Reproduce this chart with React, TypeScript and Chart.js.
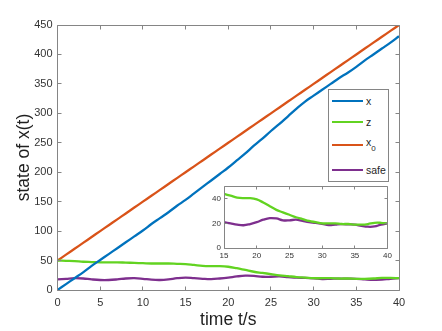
import React, { useEffect, useRef } from 'react';
import { Chart, registerables } from 'chart.js';

Chart.register(...registerables);

const TIME = [0, 1, 2, 3, 4, 5, 6, 7, 8, 9, 10, 11, 12, 13, 14, 15, 16, 17, 18, 19, 20, 21, 22, 23, 24, 25, 26, 27, 28, 29, 30, 31, 32, 33, 34, 35, 36, 37, 38, 39, 40];
const X_VALUES = [0, 10, 20, 30, 41, 51, 61, 71, 81, 91, 101, 112, 122, 132, 143, 153, 164, 175, 186, 197, 208, 220, 232, 245, 257, 270, 282, 295, 308, 320, 330, 340, 350, 360, 369, 379, 390, 400, 410, 420, 431];
const Z_VALUES = [50, 49.5, 49, 48, 47.5, 47, 47, 47, 46.5, 46, 45.5, 45, 45, 45, 44.5, 44, 42.5, 41, 40.5, 40.5, 39.5, 37, 34, 31, 29, 27, 25, 23.5, 22, 21, 20, 20, 20, 19.5, 19.5, 19, 19, 19.5, 20.5, 20.5, 20];
const X0_VALUES = [50, 60, 70, 80, 90, 100, 110, 120, 130, 140, 150, 160, 170, 180, 190, 200, 210, 220, 230, 240, 250, 260, 270, 280, 290, 300, 310, 320, 330, 340, 350, 360, 370, 380, 390, 400, 410, 420, 430, 440, 450];
const SAFE_VALUES = [18, 19, 20, 19.5, 18, 17, 17, 18, 19.5, 20, 19, 17.5, 17, 18, 20, 21, 20, 19, 18.5, 19.5, 21, 23, 24.3, 24, 22.5, 22.5, 23, 22, 21, 20.5, 19.7, 18.6, 19, 19.4, 19.2, 19, 18, 17.3, 17.5, 19, 20];

const SERIES_LABELS = ['x', 'z', 'x0', 'safe'];
const SERIES_COLORS = ['#0072BD', '#62D321', '#D95319', '#7E2F8E'];

const MAIN_X_TICKS = [0, 5, 10, 15, 20, 25, 30, 35, 40];
const MAIN_Y_TICKS = [0, 50, 100, 150, 200, 250, 300, 350, 400, 450];
const INSET_X_TICKS = [15, 20, 25, 30, 35, 40];
const INSET_Y_TICKS = [0, 20, 40];
const INSET_START = 15;

const FONT = '"Liberation Sans", Arial, Helvetica, sans-serif';
const AXIS_COLOR = '#858585';
const TEXT_COLOR = '#333333';

const boxPlugin = {
  id: 'boxTicks',
  beforeDraw(chart: any, _args: any, opts: any) {
    if (!opts.fill) return;
    const { ctx, chartArea: a } = chart;
    ctx.save();
    ctx.fillStyle = opts.fill;
    ctx.fillRect(a.left, a.top, a.right - a.left, a.bottom - a.top);
    ctx.restore();
  },
  afterDatasetsDraw(chart: any, _args: any, opts: any) {
    const { ctx, chartArea: a, scales } = chart;
    const L = opts.len || 4;
    const fx = (v: number) => Math.floor(v) + 0.5;
    ctx.save();
    ctx.strokeStyle = opts.color || AXIS_COLOR;
    ctx.lineWidth = 1;
    ctx.beginPath();
    const l = fx(a.left), r = fx(a.right), t = fx(a.top), b = fx(a.bottom);
    ctx.rect(l, t, r - l, b - t);
    scales.x.ticks.forEach((tk: any) => {
      const px = fx(scales.x.getPixelForValue(tk.value));
      ctx.moveTo(px, b); ctx.lineTo(px, b - L);
      ctx.moveTo(px, t); ctx.lineTo(px, t + L);
    });
    scales.y.ticks.forEach((tk: any) => {
      const py = fx(scales.y.getPixelForValue(tk.value));
      ctx.moveTo(l, py); ctx.lineTo(l + L, py);
      ctx.moveTo(r, py); ctx.lineTo(r - L, py);
    });
    ctx.stroke();
    ctx.restore();
  },
};

const ALL_VALUES = [X_VALUES, Z_VALUES, X0_VALUES, SAFE_VALUES];

function makeDatasets(start: number) {
  return ALL_VALUES.map((vals, k) => ({
    label: SERIES_LABELS[k],
    data: TIME.map((t, i) => ({ x: t, y: vals[i] })).filter((p) => p.x >= start),
    borderColor: SERIES_COLORS[k],
    backgroundColor: SERIES_COLORS[k],
    borderWidth: 2.3,
    pointRadius: 0,
    tension: 0.4,
    fill: false,
  }));
}

const GRID_OFF = { display: false, drawTicks: false, tickLength: 0 };

export default function App() {
  const mainRef = useRef<HTMLCanvasElement>(null);
  const insetRef = useRef<HTMLCanvasElement>(null);

  useEffect(() => {
    const main = new Chart(mainRef.current!, {
      type: 'line',
      data: { datasets: makeDatasets(0) as any },
      options: {
        animation: false,
        responsive: false,
        layout: { padding: { left: 0, top: 25, right: 43, bottom: 0 } },
        plugins: {
          legend: { display: false },
          tooltip: { enabled: false },
          boxTicks: { color: AXIS_COLOR, len: 4 },
        } as any,
        scales: {
          x: {
            type: 'linear',
            min: 0,
            max: 40,
            afterBuildTicks: (s: any) => { s.ticks = MAIN_X_TICKS.map((v) => ({ value: v })); },
            afterFit: (s: any) => { s.height = 41; },
            grid: GRID_OFF,
            border: { display: false },
            ticks: { color: TEXT_COLOR, font: { family: FONT, size: 11 }, padding: 6, maxRotation: 0 },
            title: { display: true, text: 'time t/s', color: '#1f1f1f', font: { family: FONT, size: 17.5 }, padding: { top: 0, bottom: 0 } },
          },
          y: {
            type: 'linear',
            min: 0,
            max: 450,
            afterBuildTicks: (s: any) => { s.ticks = MAIN_Y_TICKS.map((v) => ({ value: v })); },
            afterFit: (s: any) => { s.width = 57.5; },
            grid: GRID_OFF,
            border: { display: false },
            ticks: { color: TEXT_COLOR, font: { family: FONT, size: 11 }, padding: 5 },
            title: { display: true, text: 'state of x(t)', color: '#1f1f1f', font: { family: FONT, size: 17.5 }, padding: { top: 13.5, bottom: 0 } },
          },
        },
      },
      plugins: [boxPlugin],
    });

    const inset = new Chart(insetRef.current!, {
      type: 'line',
      data: { datasets: makeDatasets(INSET_START) as any },
      options: {
        animation: false,
        responsive: false,
        layout: { padding: { left: 0, top: 8.5, right: 7, bottom: 0 } },
        plugins: {
          legend: { display: false },
          tooltip: { enabled: false },
          boxTicks: { color: AXIS_COLOR, len: 3, fill: '#ffffff' },
        } as any,
        scales: {
          x: {
            type: 'linear',
            min: 15,
            max: 40,
            afterBuildTicks: (s: any) => { s.ticks = INSET_X_TICKS.map((v) => ({ value: v })); },
            afterFit: (s: any) => { s.height = 20; },
            grid: GRID_OFF,
            border: { display: false },
            ticks: { color: TEXT_COLOR, font: { family: FONT, size: 8 }, padding: 3, maxRotation: 0 },
          },
          y: {
            type: 'linear',
            min: 0,
            max: 50,
            afterBuildTicks: (s: any) => { s.ticks = INSET_Y_TICKS.map((v) => ({ value: v })); },
            afterFit: (s: any) => { s.width = 24; },
            grid: GRID_OFF,
            border: { display: false },
            ticks: { color: TEXT_COLOR, font: { family: FONT, size: 8 }, padding: 3 },
          },
        },
      },
      plugins: [boxPlugin],
    });

    return () => {
      main.destroy();
      inset.destroy();
    };
  }, []);

  const rowTops = [12, 33, 56, 81];
  const legendText = (k: number) => {
    if (SERIES_LABELS[k] === 'x0') {
      return (
        <span style={{ position: 'relative', top: -3 }}>
          x<sub style={{ fontSize: '8px', verticalAlign: '-5px', lineHeight: 0 }}>0</sub>
        </span>
      );
    }
    return SERIES_LABELS[k];
  };

  return (
    <div style={{ position: 'absolute', left: 0, top: 0, width: 442, height: 331, background: '#fff' }}>
      <canvas ref={mainRef} width={442} height={331} style={{ position: 'absolute', left: 0, top: 0, width: 442, height: 331 }} />
      <canvas ref={insetRef} width={195} height={90} style={{ position: 'absolute', left: 200, top: 178, width: 195, height: 90 }} />
      <div
        style={{
          position: 'absolute', left: 328, top: 89, width: 61, height: 93, boxSizing: 'border-box',
          border: `1px solid ${AXIS_COLOR}`, background: '#fff', fontFamily: FONT, fontSize: '10.5px', color: '#262626',
        }}
      >
        {SERIES_LABELS.map((lab, k) => (
          <div key={lab} style={{ position: 'absolute', left: 0, top: rowTops[k] - 1, width: '100%', height: 0 }}>
            <div style={{ position: 'absolute', left: 3, top: -1, width: 31, height: 2, background: SERIES_COLORS[k] }} />
            <div style={{ position: 'absolute', left: 37, top: -7, height: 14, lineHeight: '14px', whiteSpace: 'nowrap' }}>
              {legendText(k)}
            </div>
          </div>
        ))}
      </div>
    </div>
  );
}
